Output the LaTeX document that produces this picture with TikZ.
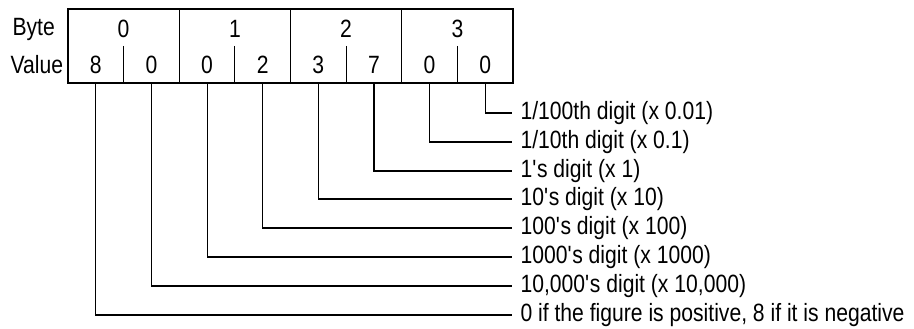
\documentclass[tikz,border=0pt]{standalone}
\usepackage{fontspec}
\setmainfont{Liberation Sans}[FakeStretch=0.845]
\usetikzlibrary{positioning}

\begin{document}
\begin{tikzpicture}[x=1pt,y=-1pt,line width=1.1pt,
  every node/.style={font=\fontsize{25}{28}\selectfont},
  cell/.style={inner sep=0pt,minimum width=55.6pt,minimum height=37pt},
  lbl/.style={anchor=west,inner xsep=8pt,inner ysep=0pt},
  head/.style={anchor=west,inner sep=0pt}]
\useasboundingbox(0,0)rectangle(914,329);

%見出し
\node[head](byte)at(12,29){Byte};
\node[head](value)at(10,64.5){Value};

%枠
\draw(68,9)rectangle(513,83); %外枠
\draw(179.25,9)to(179.25,83); %区切り1
\draw(290.5,9)to(290.5,83); %区切り2
\draw(401.75,9)to(401.75,83); %区切り3

%半分の区切り
\draw(123.6,46)to(123.6,83);
\draw(234.9,46)to(234.9,83);
\draw(346.1,46)to(346.1,83);
\draw(457.4,46)to(457.4,83);

%バイト番号
\node(b0)at(123.6,29){0};
\node(b1)at(234.9,29){1};
\node(b2)at(346.1,29){2};
\node(b3)at(457.4,29){3};

%値
\node[cell](v0)at(95.8,64.5){8};
\node[cell](v1)at(151.4,64.5){0};
\node[cell](v2)at(207.1,64.5){0};
\node[cell](v3)at(262.7,64.5){2};
\node[cell](v4)at(318.3,64.5){3};
\node[cell](v5)at(374.0,64.5){7};
\node[cell](v6)at(429.6,64.5){0};
\node[cell](v7)at(485.2,64.5){0};

%説明
\node[lbl](l7)at(512,113){1/100th digit (x 0.01)};
\node[lbl](l6)at(512,142){1/10th digit (x 0.1)};
\node[lbl](l5)at(512,171){1\textquotesingle s digit (x 1)};
\node[lbl](l4)at(512,199){10\textquotesingle s digit (x 10)};
\node[lbl](l3)at(512,228){100\textquotesingle s digit (x 100)};
\node[lbl](l2)at(512,257){1000\textquotesingle s digit (x 1000)};
\node[lbl](l1)at(512,286){10,000\textquotesingle s digit (x 10,000)};
\node[lbl](l0)at(512,315){0 if the figure is positive, 8 if it is negative};

%引き出し線
\draw(v7.south)|-(l7.west);
\draw(v6.south)|-(l6.west);
\draw(v5.south)|-(l5.west);
\draw(v4.south)|-(l4.west);
\draw(v3.south)|-(l3.west);
\draw(v2.south)|-(l2.west);
\draw(v1.south)|-(l1.west);
\draw(v0.south)|-(l0.west);
\end{tikzpicture}
\end{document}
